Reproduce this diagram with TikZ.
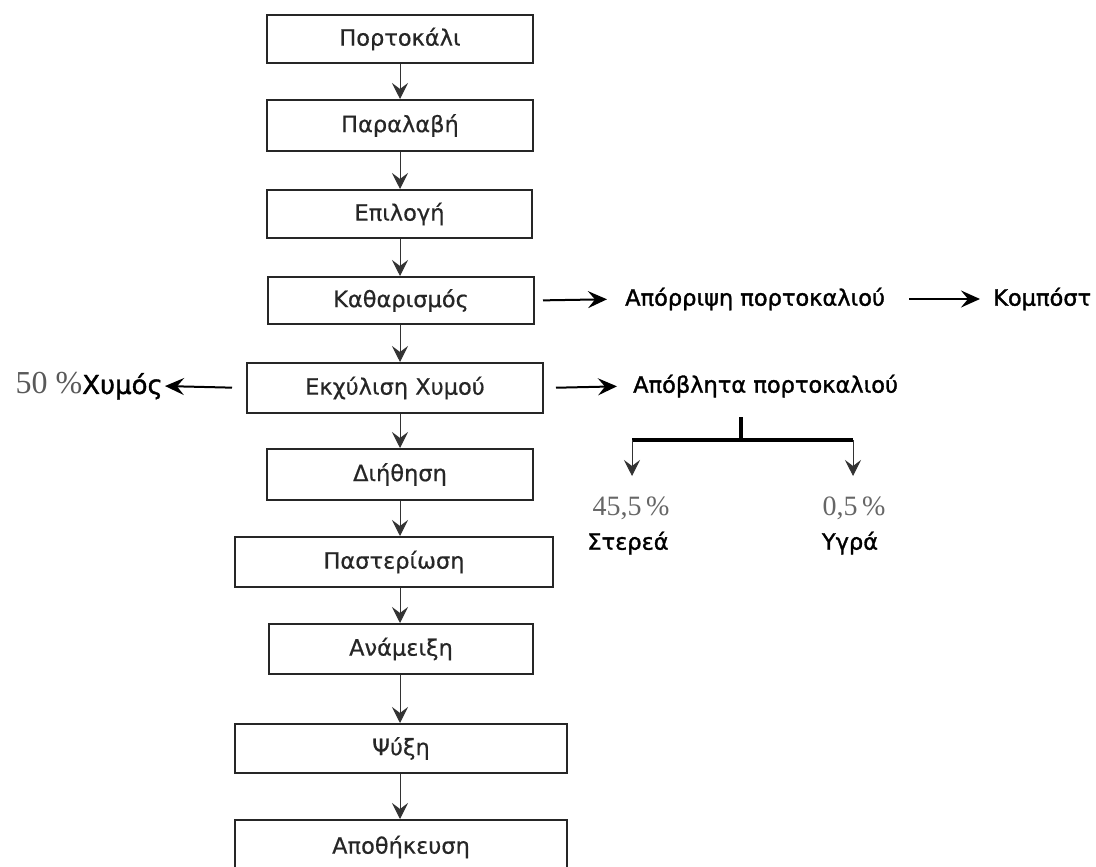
\documentclass[tikz,border=0pt]{standalone}
\usepackage{fontspec}
\setmainfont{DejaVu Sans}
\newfontfamily\labfont{DejaVu Sans}[FakeBold=0.6]
\newfontfamily\strongfont{DejaVu Sans}[FakeBold=1.4]
\newfontfamily\numfont{Liberation Serif}
\usetikzlibrary{arrows.meta}

\begin{document}
\begin{tikzpicture}[x=1pt,y=-1pt,
  stage/.style={draw=black!85, line width=2pt, inner sep=0pt,
    font=\labfont\fontsize{22.5}{26}\selectfont, text=black!85},
  flow/.style={-{Stealth[length=16pt,width=16pt,inset=6pt]}, line width=1pt, draw=black!80},
  side/.style={-{Stealth[length=19pt,width=17pt,inset=7pt]}, line width=2pt},
  lbl/.style={font=\strongfont\fontsize{22.5}{26}\selectfont, inner sep=0pt},
  pct/.style={font=\numfont\fontsize{28}{32}\selectfont, text=black!60, inner sep=0pt}]

\useasboundingbox (0,0) rectangle (1096,867);
\clip (0,0) rectangle (1096,867);

% process stages
\node[stage, minimum width=266pt, minimum height=48pt] (b1)  at (400,39)    {Πορτοκάλι};
\node[stage, minimum width=266pt, minimum height=51pt] (b2)  at (400,125.5) {Παραλαβή};
\node[stage, minimum width=265pt, minimum height=48pt] (b3)  at (399.5,214) {Επιλογή};
\node[stage, minimum width=266pt, minimum height=47pt] (b4)  at (401,300.5) {Καθαρισμός};
\node[stage, minimum width=296pt, minimum height=50pt] (b5)  at (395,388)   {Εκχύλιση Χυμού};
\node[stage, minimum width=266pt, minimum height=51pt] (b6)  at (400,474.5) {Διήθηση};
\node[stage, minimum width=318pt, minimum height=50pt] (b7)  at (394,562)   {Παστερίωση};
\node[stage, minimum width=264pt, minimum height=50pt] (b8)  at (401,649)   {Ανάμειξη};
\node[stage, minimum width=332pt, minimum height=49pt] (b9)  at (401,748.5) {Ψύξη};
\node[stage, minimum width=332pt, minimum height=54pt] (b10) at (401,847)   {Αποθήκευση};

% main flow line
\coordinate (ax) at (400,0);
\foreach \a/\b in {b1/b2,b2/b3,b3/b4,b4/b5,b5/b6,b6/b7,b7/b8,b8/b9,b9/b10}
  \draw[flow] (\a.south -| ax) -- (\b.north -| ax);

% side streams
\node[lbl, anchor=west] (rej)  at (625,299) {Απόρριψη πορτοκαλιού};
\node[lbl, anchor=west] (comp) at (993,299) {Κομπόστ};
\node[lbl, anchor=west] (waste) at (633,386) {Απόβλητα πορτοκαλιού};
\node[lbl, anchor=east] (juice) at (163,386)
  {\textcolor{black!65}{\numfont\fontsize{32}{34}\selectfont 50 \%}{\fontsize{26}{30}\selectfont Χυμός}};

\draw[side, shorten <=8pt, shorten >=18pt]  (b4.east) -- (rej.west);
\draw[side, shorten <=24pt, shorten >=13pt] (rej.east) -- (comp.west);
\draw[side, shorten <=12pt, shorten >=16pt] (b5.east) -- (waste.west);
\draw[side, shorten <=14pt, shorten >=2pt]  (b5.west) -- (juice.east);

% split of the waste
\coordinate (stem) at (741,417);
\coordinate (fork) at (741,440);
\coordinate (fl) at (632,440);
\coordinate (fr) at (853,440);
\draw[line width=3.5pt] (stem) -- (fork);
\draw[line width=3.5pt] (fl) -- (fr);
\draw[flow] (fl) -- ++(0,36);
\draw[flow] (fr) -- ++(0,36);

\node[pct] (p1) at (631,508) {45,5\,\%};
\node[lbl] (s1) at (628,543) {Στερεά};
\node[pct] (p2) at (854,508) {0,5\,\%};
\node[lbl] (s2) at (850,543) {Υγρά};
\end{tikzpicture}
\end{document}
